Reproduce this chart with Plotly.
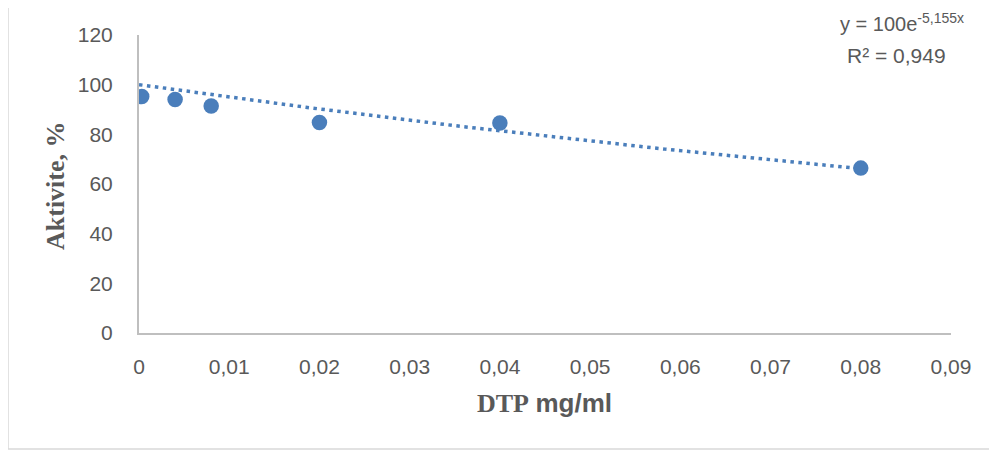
import numpy as np
import plotly.graph_objects as go

# Data
dtp = [0.0003, 0.004, 0.008, 0.02, 0.04, 0.08]
activity = [95.2, 94.0, 91.4, 84.8, 84.6, 66.4]

# Exponential trendline coefficients shown on the chart: y = A e^(k x)
trend_a = 100.0
trend_k = -5.155
trend_x = np.linspace(0, 0.08, 200)
trend_y = trend_a * np.exp(trend_k * trend_x)

x_ticks = [0, 0.01, 0.02, 0.03, 0.04, 0.05, 0.06, 0.07, 0.08, 0.09]
x_tick_labels = ["0", "0,01", "0,02", "0,03", "0,04", "0,05", "0,06", "0,07", "0,08", "0,09"]
y_ticks = [0, 20, 40, 60, 80, 100, 120]

blue = "#4A7EBB"
grey_text = "#595959"
axis_grey = "#BFBFBF"
sans = "Liberation Sans"
serif = "Liberation Serif"

fig = go.Figure()
fig.add_trace(go.Scatter(
    x=trend_x, y=trend_y, mode="lines",
    line=dict(color=blue, width=3.5, dash="3.5px,4.5px"),
    hoverinfo="skip", showlegend=False,
))
fig.add_trace(go.Scatter(
    x=dtp, y=activity, mode="markers",
    marker=dict(color=blue, size=15.5, line=dict(width=0)),
    showlegend=False,
))

OFF = 8  # page body margin
W, H = 997 - OFF, 451 - OFF
L, T = 139 - OFF, 35 - OFF
pw, ph = 812, 298
R = W - L - pw
B = H - T - ph

def px_x(p):
    return (p - OFF - L) / pw

def px_y(p):
    return (T + ph - (p - OFF)) / ph

fig.update_layout(
    width=W, height=H,
    margin=dict(l=L, r=R, t=T, b=B),
    paper_bgcolor="white", plot_bgcolor="white",
    font=dict(family=sans, color=grey_text, size=21),
    xaxis=dict(
        range=[0, 0.09], tickvals=x_ticks, ticktext=x_tick_labels,
        showgrid=False, zeroline=False, showline=True,
        linecolor=axis_grey, linewidth=2, ticks="",
        tickfont=dict(family=sans, size=21, color=grey_text),
        ticklabelstandoff=14,
    ),
    yaxis=dict(
        range=[0, 120], tickvals=y_ticks,
        showgrid=False, zeroline=False, showline=True,
        linecolor=axis_grey, linewidth=2, ticks="",
        tickfont=dict(family=sans, size=21, color=grey_text),
        ticklabelstandoff=20,
    ),
    shapes=[dict(
        type="rect", xref="paper", yref="paper",
        x0=px_x(8), x1=px_x(990), y0=px_y(449), y1=px_y(6),
        line=dict(color="#D9D9D9", width=1.5), fillcolor="rgba(0,0,0,0)",
        layer="below",
    )],
    annotations=[
        dict(
            text="<b>DTP</b> <b><span style=\"font-family:Liberation Sans\">mg/ml</span></b>",
            xref="paper", yref="paper", x=px_x(544), y=px_y(403),
            xanchor="center", yanchor="middle", showarrow=False,
            font=dict(family=serif, size=26, color=grey_text),
        ),
        dict(
            text="<b>Aktivite, %</b>",
            xref="paper", yref="paper", x=px_x(55), y=px_y(186),
            xanchor="center", yanchor="middle", showarrow=False, textangle=-90,
            font=dict(family=serif, size=26, color=grey_text),
        ),
        dict(
            text="y = 100e<sup>-5,155x</sup>",
            xref="paper", yref="paper", x=px_x(902), y=px_y(22),
            xanchor="center", yanchor="middle", showarrow=False,
            font=dict(family=sans, size=20, color=grey_text),
        ),
        dict(
            text="R² = 0,949",
            xref="paper", yref="paper", x=px_x(896), y=px_y(55),
            xanchor="center", yanchor="middle", showarrow=False,
            font=dict(family=sans, size=21, color=grey_text),
        ),
    ],
)

fig.write_html("out.html")
